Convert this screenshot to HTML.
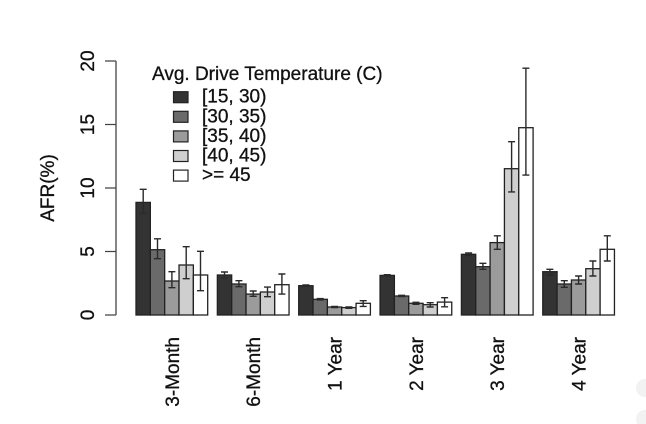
<!DOCTYPE html>
<html><head><meta charset="utf-8"><style>
html,body{margin:0;padding:0;background:#fff;}
svg{display:block;}
text{font-family:"Liberation Sans",Arial,sans-serif;font-size:19px;fill:#111;stroke:#111;stroke-width:0.3px;}
</style></head><body>
<svg width="646" height="424" viewBox="0 0 646 424" xmlns="http://www.w3.org/2000/svg">
<rect width="646" height="424" fill="#fff"/>
<!-- faint corner circles -->
<circle cx="645" cy="388" r="9" fill="#f2f2f2"/>
<circle cx="645" cy="419" r="9" fill="#f2f2f2"/>
<!-- y axis -->
<g stroke="#444" stroke-width="1.3" fill="none">
<path d="M116 61 V315"/>
<path d="M105 61 H116 M105 124.5 H116 M105 188 H116 M105 251.5 H116 M105 315 H116"/>
</g>
<text transform="translate(94,315) rotate(-90)" text-anchor="middle">0</text>
<text transform="translate(94,251.5) rotate(-90)" text-anchor="middle">5</text>
<text transform="translate(94,188) rotate(-90)" text-anchor="middle">10</text>
<text transform="translate(94,124.5) rotate(-90)" text-anchor="middle">15</text>
<text transform="translate(94,61) rotate(-90)" text-anchor="middle">20</text>
<text transform="translate(54,188) rotate(-90)" text-anchor="middle">AFR(%)</text>

<!-- bars -->
<g stroke="#222" stroke-width="1.3">
<rect x="136" y="202.4" width="14.34" height="112.6" fill="#333"/>
<rect x="150.34" y="249.7" width="14.34" height="65.3" fill="#6a6a6a"/>
<rect x="164.68" y="281.0" width="14.34" height="34.0" fill="#9b9b9b"/>
<rect x="179.02" y="265.0" width="14.34" height="50.0" fill="#cfcfcf"/>
<rect x="193.36" y="275.0" width="14.34" height="40.0" fill="#fff"/>

<rect x="217.35" y="275.0" width="14.34" height="40.0" fill="#333"/>
<rect x="231.69" y="284.0" width="14.34" height="31.0" fill="#6a6a6a"/>
<rect x="246.03" y="294.1" width="14.34" height="20.9" fill="#9b9b9b"/>
<rect x="260.37" y="292.0" width="14.34" height="23.0" fill="#cfcfcf"/>
<rect x="274.71" y="284.7" width="14.34" height="30.3" fill="#fff"/>

<rect x="298.70" y="285.7" width="14.34" height="29.3" fill="#333"/>
<rect x="313.04" y="299.3" width="14.34" height="15.7" fill="#6a6a6a"/>
<rect x="327.38" y="307.0" width="14.34" height="8.0" fill="#9b9b9b"/>
<rect x="341.72" y="307.6" width="14.34" height="7.4" fill="#cfcfcf"/>
<rect x="356.06" y="303.3" width="14.34" height="11.7" fill="#fff"/>

<rect x="380.05" y="275.4" width="14.34" height="39.6" fill="#333"/>
<rect x="394.39" y="296.0" width="14.34" height="19.0" fill="#6a6a6a"/>
<rect x="408.73" y="303.3" width="14.34" height="11.7" fill="#9b9b9b"/>
<rect x="423.07" y="304.7" width="14.34" height="10.3" fill="#cfcfcf"/>
<rect x="437.41" y="302.1" width="14.34" height="12.9" fill="#fff"/>

<rect x="461.40" y="254.3" width="14.34" height="60.7" fill="#333"/>
<rect x="475.74" y="266.7" width="14.34" height="48.3" fill="#6a6a6a"/>
<rect x="490.08" y="242.6" width="14.34" height="72.4" fill="#9b9b9b"/>
<rect x="504.42" y="168.7" width="14.34" height="146.3" fill="#cfcfcf"/>
<rect x="518.76" y="127.7" width="14.34" height="187.3" fill="#fff"/>

<rect x="542.75" y="271.7" width="14.34" height="43.3" fill="#333"/>
<rect x="557.09" y="284.0" width="14.34" height="31.0" fill="#6a6a6a"/>
<rect x="571.43" y="280.0" width="14.34" height="35.0" fill="#9b9b9b"/>
<rect x="585.77" y="268.7" width="14.34" height="46.3" fill="#cfcfcf"/>
<rect x="600.11" y="249.3" width="14.34" height="65.7" fill="#fff"/>
</g>

<!-- error bars -->
<g stroke="#2a2a2a" stroke-width="1.4" fill="none">
<path d="M143.2 213.4V189.3M139.7 213.4h7M139.7 189.3h7"/>
<path d="M157.5 258.7V238.8M154 258.7h7M154 238.8h7"/>
<path d="M171.9 287.7V271.7M168.4 287.7h7M168.4 271.7h7"/>
<path d="M186.2 278.7V246.7M182.7 278.7h7M182.7 246.7h7"/>
<path d="M200.5 290.7V251.3M197 290.7h7M197 251.3h7"/>

<path d="M224.5 278.0V272.0M221 278.0h7M221 272.0h7"/>
<path d="M238.9 286.7V280.7M235.4 286.7h7M235.4 280.7h7"/>
<path d="M253.2 296.3V291.0M249.7 296.3h7M249.7 291.0h7"/>
<path d="M267.5 296.7V287.1M264 296.7h7M264 287.1h7"/>
<path d="M281.9 294.1V274.0M278.4 294.1h7M278.4 274.0h7"/>

<path d="M305.9 286.4V284.9M302.4 286.4h7M302.4 284.9h7"/>
<path d="M320.2 299.9V298.6M316.7 299.9h7M316.7 298.6h7"/>
<path d="M334.6 307.6V306.4M331.1 307.6h7M331.1 306.4h7"/>
<path d="M348.9 308.3V307.0M345.4 308.3h7M345.4 307.0h7"/>
<path d="M363.2 306.4V300.7M359.7 306.4h7M359.7 300.7h7"/>

<path d="M387.2 276.0V274.7M383.7 276.0h7M383.7 274.7h7"/>
<path d="M401.6 296.6V295.3M398.1 296.6h7M398.1 295.3h7"/>
<path d="M415.9 304.3V302.3M412.4 304.3h7M412.4 302.3h7"/>
<path d="M430.2 307.0V302.7M426.7 307.0h7M426.7 302.7h7"/>
<path d="M444.6 306.8V297.7M441.1 306.8h7M441.1 297.7h7"/>

<path d="M468.6 255.6V253.0M465.1 255.6h7M465.1 253.0h7"/>
<path d="M482.9 269.3V263.3M479.4 269.3h7M479.4 263.3h7"/>
<path d="M497.3 249.3V235.8M493.8 249.3h7M493.8 235.8h7"/>
<path d="M511.6 191.9V141.7M508.1 191.9h7M508.1 141.7h7"/>
<path d="M525.9 175.1V68.2M522.4 175.1h7M522.4 68.2h7"/>

<path d="M549.9 275.0V269.3M546.4 275.0h7M546.4 269.3h7"/>
<path d="M564.3 287.3V280.7M560.8 287.3h7M560.8 280.7h7"/>
<path d="M578.6 284.0V276.0M575.1 284.0h7M575.1 276.0h7"/>
<path d="M592.9 276.0V261.0M589.4 276.0h7M589.4 261.0h7"/>
<path d="M607.3 261.0V235.8M603.8 261.0h7M603.8 235.8h7"/>
</g>

<!-- x labels -->
<text transform="translate(178.8,337) rotate(-90)" text-anchor="end">3-Month</text>
<text transform="translate(260.1,337) rotate(-90)" text-anchor="end">6-Month</text>
<text transform="translate(341.5,337) rotate(-90)" text-anchor="end">1 Year</text>
<text transform="translate(422.8,337) rotate(-90)" text-anchor="end">2 Year</text>
<text transform="translate(504.2,337) rotate(-90)" text-anchor="end">3 Year</text>
<text transform="translate(585.5,337) rotate(-90)" text-anchor="end">4 Year</text>

<!-- legend -->
<text x="152" y="80">Avg. Drive Temperature (C)</text>
<g stroke="#222" stroke-width="1.2">
<rect x="173.5" y="91.7" width="14.5" height="11" fill="#333"/>
<rect x="173.5" y="111.3" width="14.5" height="11" fill="#6a6a6a"/>
<rect x="173.5" y="130.9" width="14.5" height="11" fill="#9b9b9b"/>
<rect x="173.5" y="150.5" width="14.5" height="11" fill="#cfcfcf"/>
<rect x="173.5" y="170.1" width="14.5" height="11" fill="#fff"/>
</g>
<text x="202" y="102.7">[15, 30)</text>
<text x="202" y="122.3">[30, 35)</text>
<text x="202" y="141.9">[35, 40)</text>
<text x="202" y="161.5">[40, 45)</text>
<text x="202" y="181.1">&gt;= 45</text>
</svg>
</body></html>
